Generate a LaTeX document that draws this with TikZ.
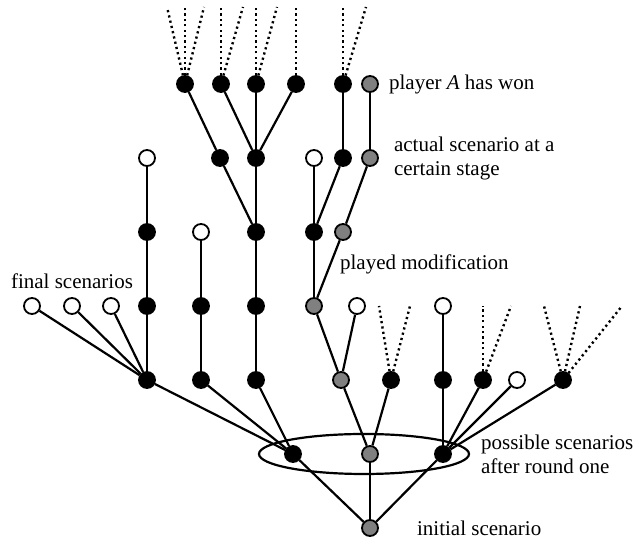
\documentclass[tikz,border=0pt]{standalone}
\usepackage{fontspec}
\setmainfont{Liberation Serif}
\usetikzlibrary{positioning}

\begin{document}
\begin{tikzpicture}[node distance=37pt, on grid, line width=1.1pt,
        scen/.style={circle, draw, minimum size=8pt, inner sep=0pt, line width=0.9pt},
        blk/.style={scen, fill=black},
        gry/.style={scen, fill=gray},
        wht/.style={scen, fill=white},
        cont/.style={line width=1.2pt, dash pattern=on 1.1pt off 1.6pt},
        lbl/.style={inner sep=2pt, align=left, font=\fontsize{10.5}{12}\selectfont}]
        \useasboundingbox (-185pt,-6pt) rectangle (134pt,264pt);

        \node[gry] (s)    {};
        \node[blk] (s1)   [above=of s, xshift=-38.5pt] {};
        \node[gry] (s2)   [above=of s]                 {};
        \node[blk] (s3)   [above=of s, xshift=36.5pt]  {};

        \node[blk] (s11)  [above=of s1, xshift=-73pt]   {};
        \node[blk] (s12)  [above=of s1, xshift=-46pt]   {};
        \node[blk] (s13)  [above=of s1, xshift=-18.5pt] {};
        \node[gry] (s21)  [above=of s2, xshift=-14.5pt] {};
        \node[blk] (s22)  [above=of s2, xshift=10.5pt]  {};
        \node[blk] (s31)  [above=of s3]                 {};
        \node[blk] (s32)  [above=of s3, xshift=20pt]    {};
        \node[wht] (s33)  [above=of s3, xshift=37pt]    {};
        \node[blk] (s34)  [above=of s3, xshift=60pt]    {};

        \node[wht] (s111) [above=of s11, xshift=-57.5pt] {};
        \node[wht] (s112) [above=of s11, xshift=-37.5pt] {};
        \node[wht] (s113) [above=of s11, xshift=-18pt]   {};
        \node[blk] (s114) [above=of s11]                 {};
        \node[blk] (s121) [above=of s12]                 {};
        \node[blk] (s131) [above=of s13]                 {};
        \node[gry] (s211) [above=of s21, xshift=-13.5pt] {};
        \node[wht] (s212) [above=of s21, xshift=8pt]     {};
        \node[wht] (s311) [above=of s31]                 {};

        \node[blk] (s1141) [above=of s114]                {};
        \node[wht] (s1211) [above=of s121]                {};
        \node[blk] (s1311) [above=of s131]                {};
        \node[blk] (s2111) [above=of s211]                {};
        \node[gry] (s2112) [above=of s211, xshift=14.5pt] {};

        \node[wht] (s11411) [above=of s1141]                {};
        \node[blk] (s13111) [above=of s1311, xshift=-18pt]  {};
        \node[blk] (s13112) [above=of s1311]                {};
        \node[wht] (s21111) [above=of s2111]                {};
        \node[blk] (s21112) [above=of s2111, xshift=14.5pt] {};
        \node[gry] (s21121) [above=of s2112, xshift=13.5pt] {};

        \node[blk] (s131111) [above=of s13111, xshift=-17.5pt] {};
        \node[blk] (s131121) [above=of s13112, xshift=-17.5pt] {};
        \node[blk] (s131122) [above=of s13112]                 {};
        \node[blk] (s131123) [above=of s13112, xshift=20pt]    {};
        \node[blk] (s211121) [above=of s21112]                 {};
        \node[gry] (s211211) [above=of s21121]                 {};

        \node[lbl] (init)   [right=21pt of s, anchor=west]       {initial scenario};
        \node[lbl] (round)  [right=16.5pt of s3, anchor=west]    {possible scenarios\\after round one};
        \node[lbl] (modif)  [above right=21pt and 10.5pt of s211, anchor=west] {played modification};
        \node[lbl] (actual) [right=9.5pt of s21121, anchor=west] {actual scenario at a\\certain stage};
        \node[lbl] (won)    [right=7pt of s211211, anchor=west]  {player \textit{A} has won};
        \node[lbl] (final)  [above=12.5pt of s112]               {final scenarios};

        \draw ([xshift=-3pt]s2.center) ellipse [x radius=52.5pt, y radius=10pt];

        \path
        (s) edge (s1) (s) edge (s2) (s) edge (s3)
        (s1) edge (s11) (s1) edge (s12) (s1) edge (s13)
        (s2) edge (s21) (s2) edge (s22)
        (s3) edge (s31) (s3) edge (s32) (s3) edge (s33) (s3) edge (s34)
        (s11) edge (s111) (s11) edge (s112) (s11) edge (s113) (s11) edge (s114)
        (s12) edge (s121) (s13) edge (s131)
        (s21) edge (s211) (s21) edge (s212)
        (s31) edge (s311)
        (s114) edge (s1141) (s121) edge (s1211) (s131) edge (s1311)
        (s211) edge (s2111) (s211) edge (s2112)
        (s1141) edge (s11411)
        (s1311) edge (s13111) (s1311) edge (s13112)
        (s2111) edge (s21111) (s2111) edge (s21112)
        (s2112) edge (s21121)
        (s13111) edge (s131111)
        (s13112) edge (s131121) (s13112) edge (s131122) (s13112) edge (s131123)
        (s21112) edge (s211121)
        (s21121) edge (s211211)
        ;

        \foreach \dx in {-6,9.5} \draw[cont] (s22) -- ++(\dx pt,37pt);
        \foreach \dx in {0,14} \draw[cont] (s32) -- ++(\dx pt,37pt);
        \foreach \dx in {-9.5,8.5,29.5} \draw[cont] (s34) -- ++(\dx pt,37pt);
        \foreach \dx in {-9,0,9.5} \draw[cont] (s131111) -- ++(\dx pt,38.5pt);
        \foreach \dx in {0,11} \draw[cont] (s131121) -- ++(\dx pt,38.5pt);
        \foreach \dx in {0,10.5} \draw[cont] (s131122) -- ++(\dx pt,38.5pt);
        \draw[cont] (s131123) -- ++(0pt,38.5pt);
        \foreach \dx in {0,11.5} \draw[cont] (s211121) -- ++(\dx pt,38.5pt);
    \end{tikzpicture}
\end{document}
